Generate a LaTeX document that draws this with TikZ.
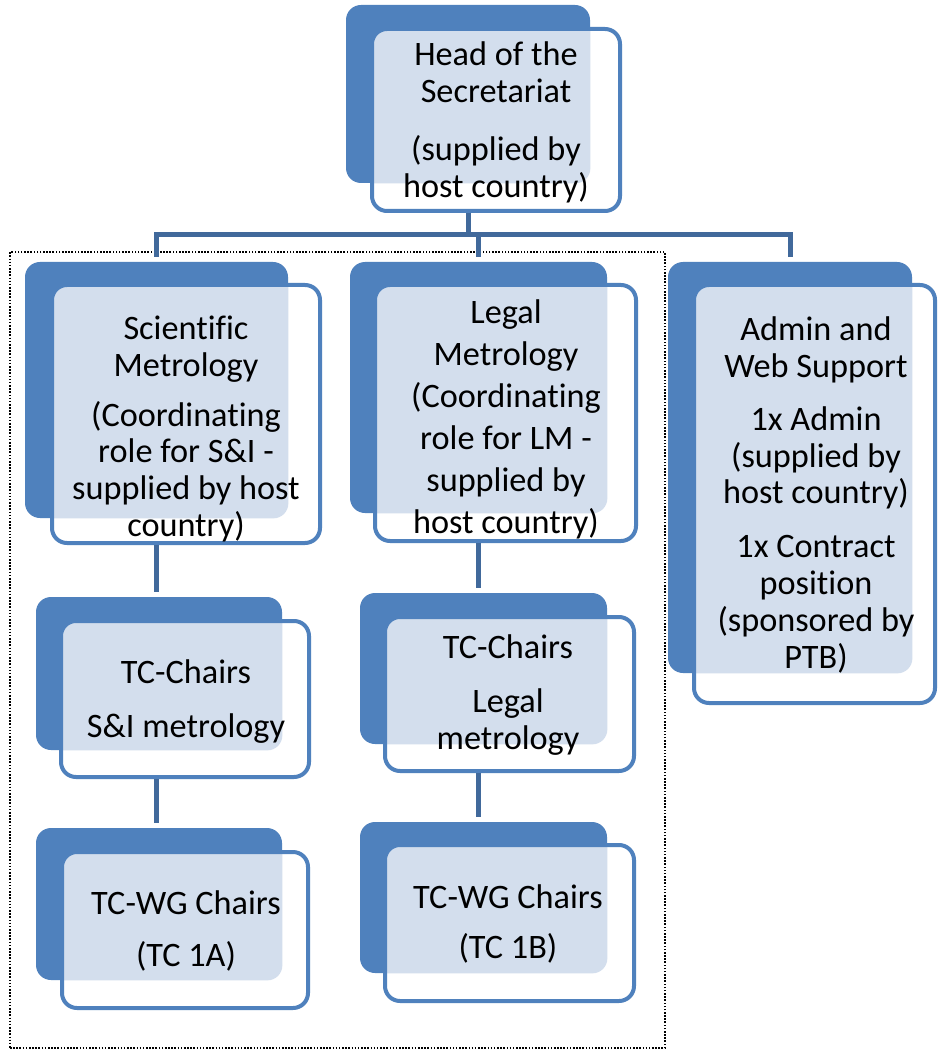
\documentclass[tikz,border=0pt]{standalone}
\usepackage{fontspec}
\setmainfont{Carlito}[Ligatures=NoCommon]
\usetikzlibrary{fit}
\definecolor{boxblue}{HTML}{4F81BD}
\definecolor{linkblue}{HTML}{41699B}
\definecolor{patblue}{HTML}{D3DEED}
\newcommand\orgbox[3]{%
  \node[backbox, fit={#2}] (#1B) {};
  \node[frontbox, fit={#3},
    path picture={\fill[patblue, rounded corners=0.3cm] (#1B.south west) rectangle (#1B.north east);}] (#1) {};
}
\begin{document}
\begin{tikzpicture}[x=0.02cm, y=-0.02cm,
  backbox/.style={fill=boxblue, rounded corners=0.3cm, inner sep=0pt, draw=none},
  frontbox/.style={draw=boxblue, line width=0.08cm, fill=white, rounded corners=0.3cm, inner sep=0pt},
  txt/.style={align=center, inner sep=0pt, font=\fontsize{19.5}{21}\selectfont},
  txtwide/.style={align=center, inner sep=0pt, font=\fontsize{19.5}{23.9}\selectfont},
  conn/.style={draw=linkblue, line width=0.1cm},
  groupbox/.style={draw=black, line width=0.6pt, dash pattern=on 0.9pt off 0.9pt, inner sep=0pt}]
\fill[white] (0,0) rectangle (937,1050);
\useasboundingbox (0,0) rectangle (937,1050);

% dotted group frame
\node[groupbox, fit={(10,252) (665,1048)}] (group) {};

% boxes
\orgbox{head}{(346,5) (590,183)}{(372,29) (620,211)}
\orgbox{sci}{(25,262) (288,518)}{(52,285) (320,543)}
\orgbox{legal}{(350,262) (607,513)}{(375,285) (636,541)}
\orgbox{admin}{(668,262) (912,673)}{(694,285) (935,703)}
\orgbox{tccL}{(36,597) (282,750)}{(61,621) (309,777)}
\orgbox{tccR}{(360,593) (607,744)}{(385,617) (634,771)}
\orgbox{wgL}{(36,828) (282,980)}{(62,852) (308,1008)}
\orgbox{wgR}{(360,822) (607,973)}{(385,845) (634,1001)}

% texts
\node[txt] (headT) at (496,122) {Head of the\\Secretariat\\[12pt](supplied by\\host country)};
\node[txt] (sciT) at (186,429) {Scientific\\Metrology\\[7.4pt](Coordinating\\role for S\&I -\\supplied by host\\country)};
\node[txtwide] (legalT) at (506,419) {Legal\\Metrology\\(Coordinating\\role for LM -\\supplied by\\host country)};
\node[txt] (adminT) at (816,495) {Admin and\\Web Support\\[9pt]1x Admin\\(supplied by\\host country)\\[9.7pt]1x Contract\\position\\(sponsored by\\PTB)};
\node[txt] (tccLT) at (186,702) {TC-Chairs\\[9.7pt]S\&I metrology};
\node[txt] (tccRT) at (508,695) {TC-Chairs\\[10pt]Legal\\metrology};
\node[txt] (wgLT) at (186,931) {TC-WG Chairs\\[8.5pt](TC 1A)};
\node[txt] (wgRT) at (508,924) {TC-WG Chairs\\[7pt](TC 1B)};

% connectors
\coordinate (hdrop) at (468,235);
\coordinate (busL) at (sciB.north |- hdrop);
\coordinate (busR) at (adminB.north |- hdrop);
\draw[conn] (head.south -| hdrop) -- (hdrop);
\draw[conn, shorten <=0.1cm, shorten >=0.1cm] (sciB.north) -- (busL) -- (busR) -- (adminB.north);
\draw[conn, shorten >=0.1cm] (legalB.north |- hdrop) -- (legalB.north);
\draw[conn, shorten >=0.1cm] (sci.south -| sciB.south) -- (tccLB.north -| sciB.south);
\draw[conn, shorten >=0.1cm] (tccL.south -| sciB.south) -- (wgLB.north -| sciB.south);
\draw[conn, shorten >=0.1cm] (legal.south -| legalB.south) -- (tccRB.north -| legalB.south);
\draw[conn, shorten >=0.1cm] (tccR.south -| legalB.south) -- (wgRB.north -| legalB.south);
\end{tikzpicture}
\end{document}
